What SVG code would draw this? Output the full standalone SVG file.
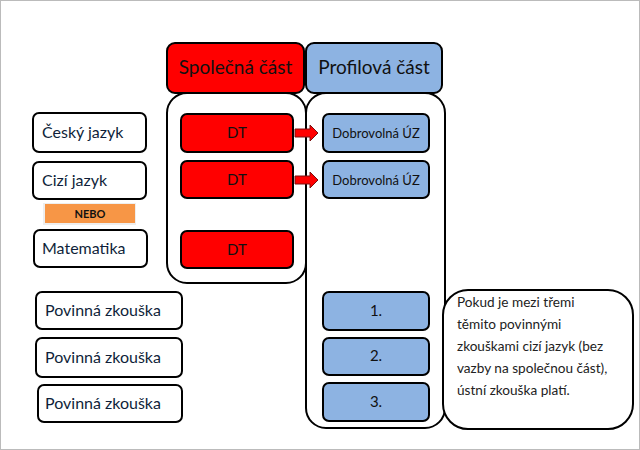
<svg xmlns="http://www.w3.org/2000/svg" width="640" height="450" viewBox="0 0 640 450">
<style>
.b{stroke:#000;stroke-width:2}
.w{fill:#fff}
.r{fill:#ff0000}
.bl{fill:#8db3e2}
text{font-family:Lato,"Noto Sans",sans-serif}
.lab{font-size:16px;fill:#0f1f3a}
.hd{font-size:19px;fill:#111;text-anchor:middle}
.c{font-size:15px;fill:#111;text-anchor:middle}
.s{font-size:13px;fill:#111;text-anchor:middle}
.n{font-size:13.6px;fill:#222}
</style>
<rect x="0.5" y="0.5" width="639" height="449" fill="#fff" stroke="#bbb" stroke-width="1"/>
<g id="hdr-spol"><rect class="b r" x="167" y="43" width="137" height="50" rx="8"/><text class="hd" x="235.5" y="74">Společná část</text></g>
<g id="hdr-prof"><rect class="b bl" x="306" y="43" width="136" height="50" rx="8"/><text class="hd" x="374" y="74">Profilová část</text></g>
<g id="cont-spol"><rect class="b w" x="167" y="93" width="139" height="190" rx="20"/></g>
<g id="cont-prof"><rect class="b w" x="306" y="93" width="139" height="335" rx="20"/></g>
<g id="dt1"><rect class="b r" x="181" y="114" width="112" height="38" rx="6"/><text class="c" x="237" y="138">DT</text></g>
<g id="dt2"><rect class="b r" x="181" y="161" width="112" height="37" rx="6"/><text class="c" x="237" y="185">DT</text></g>
<g id="dt3"><rect class="b r" x="181" y="231" width="112" height="37" rx="6"/><text class="c" x="237" y="255">DT</text></g>
<g id="uz1"><rect class="b bl" x="323" y="114" width="106" height="38" rx="6"/><text class="s" x="376" y="138">Dobrovolná ÚZ</text></g>
<g id="uz2"><rect class="b bl" x="323" y="161" width="106" height="37" rx="6"/><text class="s" x="376" y="185">Dobrovolná ÚZ</text></g>
<g id="cj"><rect class="b w" x="33" y="113" width="113" height="39" rx="6"/><text class="lab" x="42" y="138">Český jazyk</text></g>
<g id="ciz"><rect class="b w" x="33" y="162" width="113" height="37" rx="6"/><text class="lab" x="42" y="186">Cizí jazyk</text></g>
<g id="nebo"><rect x="43" y="203" width="93" height="22" fill="#eee"/><rect x="45" y="204" width="90" height="19" fill="#f79646"/><text x="90" y="218" font-size="11" font-weight="bold" text-anchor="middle" fill="#111">NEBO</text></g>
<g id="mat"><rect class="b w" x="34" y="230" width="113" height="37" rx="6"/><text class="lab" x="42" y="254">Matematika</text></g>
<g id="pz1"><rect class="b w" x="36" y="292" width="146" height="37" rx="6"/><text class="lab" x="45" y="316">Povinná zkouška</text></g>
<g id="pz2"><rect class="b w" x="36" y="338" width="146" height="39" rx="6"/><text class="lab" x="45" y="363">Povinná zkouška</text></g>
<g id="pz3"><rect class="b w" x="38" y="385" width="144" height="37" rx="6"/><text class="lab" x="45" y="409">Povinná zkouška</text></g>
<g id="p1"><rect class="b bl" x="323" y="292" width="106" height="38" rx="6"/><text class="c" x="376" y="316">1.</text></g>
<g id="p2"><rect class="b bl" x="323" y="338" width="106" height="37" rx="6"/><text class="c" x="376" y="361">2.</text></g>
<g id="p3"><rect class="b bl" x="323" y="383" width="106" height="38" rx="6"/><text class="c" x="376" y="407">3.</text></g>
<g id="note"><rect class="b w" x="443" y="290" width="190" height="139" rx="25"/>
<text class="n" x="457" y="307">Pokud je mezi třemi</text>
<text class="n" x="457" y="329">těmito povinnými</text>
<text class="n" x="457" y="351">zkouškami cizí jazyk (bez</text>
<text class="n" x="457" y="373">vazby na společnou část),</text>
<text class="n" x="457" y="395">ústní zkouška platí.</text>
</g>
<g id="connectors" fill="#ff0000" stroke="#7a1010" stroke-width="1">
<path d="M295,129 H310 V125 L318,133 L310,141 V137 H295 Z"/>
<path d="M295,176 H310 V172 L318,180 L310,188 V184 H295 Z"/>
</g>
</svg>
